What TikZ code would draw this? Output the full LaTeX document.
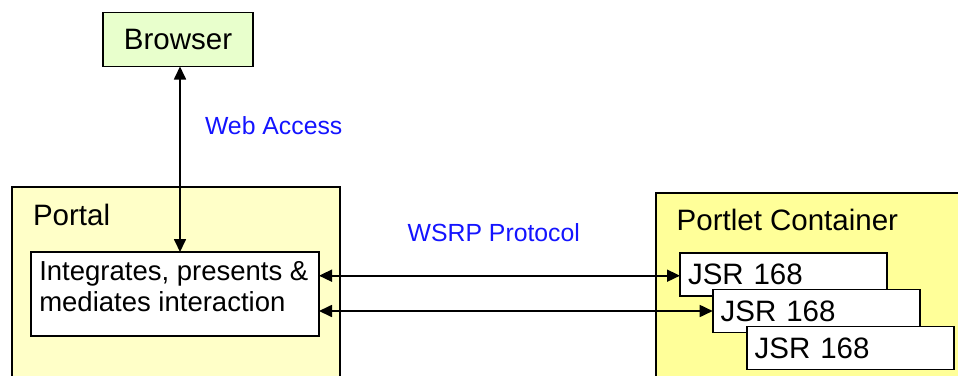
\documentclass[tikz,border=0pt]{standalone}
\usepackage{fontspec}
\setmainfont{Liberation Sans}
\usetikzlibrary{arrows.meta}
\definecolor{browserfill}{HTML}{E8FFCC}
\definecolor{portalfill}{HTML}{FFFFC8}
\definecolor{containerfill}{HTML}{FFFF99}
\definecolor{labelblue}{HTML}{1414FF}
\tikzset{
  box/.style={draw=black, line width=1.7pt, rectangle, inner sep=0pt, outer sep=0pt},
  bigtext/.style={font=\fontsize{29.5}{34}\selectfont, inner sep=0pt, outer sep=0pt},
  midtext/.style={font=\fontsize{27.5}{30.5}\selectfont, inner sep=0pt, outer sep=0pt, align=left},
  bluelabel/.style={font=\fontsize{24.8}{28}\selectfont, text=labelblue, inner sep=0pt, outer sep=0pt},
  jsrbox/.style={box, fill=white, minimum height=43pt, text width=191pt, inner xsep=8pt, align=left, font=\fontsize{29.5}{34}\selectfont},
  conn/.style={line width=1.7pt, {Triangle[length=13pt,width=12pt]}-{Triangle[length=13pt,width=12pt]}}
}
\begin{document}
\begin{tikzpicture}[x=1pt,y=-1pt]
\useasboundingbox (0,0) rectangle (958,375);
\clip (0,0) rectangle (958,375);
% Browser
\node[box, fill=browserfill, minimum width=150pt, minimum height=54pt, bigtext, draw=black, line width=1.7pt] (browser) at (178,39.5) {Browser};
% Portal
\node[box, fill=portalfill, minimum width=328pt, minimum height=220pt, anchor=north west] (portal) at (12,187) {};
\node[bigtext, anchor=base west] (portallabel) at (33,225.7) {Portal};
\node[box, fill=white, minimum width=288pt, minimum height=84pt, anchor=north west] (integ) at (31,252) {};
\node[midtext, anchor=north west] (integtext) at (39.3,261.6) {Integrates, presents \&\\mediates interaction};
% Portlet container
\node[box, fill=containerfill, minimum width=320pt, minimum height=220pt, anchor=north west] (container) at (656,193) {};
\node[bigtext, anchor=base west] (containerlabel) at (676.7,230.7) {Portlet Container};
\node[jsrbox, anchor=north west] (jsra) at (680,252.7) {JSR 168};
\node[jsrbox, anchor=north west] (jsrb) at (712.7,289.5) {JSR 168};
\node[jsrbox, anchor=north west] (jsrc) at (746.7,326.5) {JSR 168};
% connectors
\draw[conn] (browser.south -| 180,0) -- (integ.north -| 180,0);
\coordinate (ia) at (319,275.7);
\coordinate (ib) at (319,311);
\draw[conn] (ia) -- (jsra.west |- ia);
\draw[conn] (ib) -- (jsrb.west |- ib);
% labels
\node[bluelabel, anchor=base west] (web) at (205,134) {Web Access};
\node[bluelabel, anchor=base west] (wsrp) at (407.7,241) {WSRP Protocol};
\end{tikzpicture}
\end{document}
